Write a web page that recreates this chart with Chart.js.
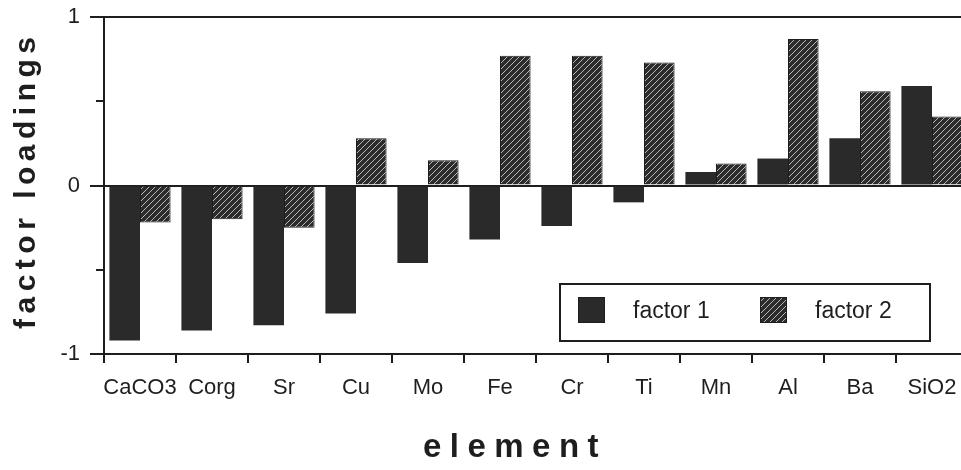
<!DOCTYPE html>
<html>
<head>
<meta charset="utf-8">
<script src="https://cdn.jsdelivr.net/npm/chart.js@4"></script>
<style>
html, body { margin: 0; padding: 0; background: #fff; overflow: hidden; }
#wrap { width: 970px; height: 470px; }
</style>
</head>
<body>
<div id="wrap"><canvas id="chart" width="970" height="470"></canvas></div>
<script>
// values
const elements = ['CaCO3', 'Corg', 'Sr', 'Cu', 'Mo', 'Fe', 'Cr', 'Ti', 'Mn', 'Al', 'Ba', 'SiO2'];
const factor1 = [-0.92, -0.86, -0.83, -0.76, -0.46, -0.32, -0.24, -0.10, 0.08, 0.16, 0.28, 0.59];
const factor2 = [-0.22, -0.20, -0.25, 0.28, 0.15, 0.77, 0.77, 0.73, 0.13, 0.87, 0.56, 0.41];
const yTicks = [-1, 0, 1];
const seriesNames = ['factor 1', 'factor 2'];

const ink = '#1e1e1e';
const fontName = '"Liberation Sans", Arial, sans-serif';

// hatched fill for factor 2
function hatch() {
    const c = document.createElement('canvas');
    c.width = 6; c.height = 6;
    const g = c.getContext('2d');
    g.fillStyle = '#2c2c2c';
    g.fillRect(0, 0, 6, 6);
    g.strokeStyle = 'rgba(230,230,230,0.75)';
    g.lineWidth = 1;
    g.beginPath();
    g.moveTo(0, 6); g.lineTo(6, 0);
    g.moveTo(-1, 1); g.lineTo(1, -1);
    g.moveTo(5, 7); g.lineTo(7, 5);
    g.stroke();
    return g.createPattern(c, 'repeat');
}

// axis titles, minor ticks and the boxed legend
const extras = {
    id: 'extras',
    afterDraw(chart) {
        const ctx = chart.ctx;
        const y = chart.scales.y;
        ctx.save();

        ctx.strokeStyle = ink;
        ctx.lineWidth = 2;
        [-0.5, 0.5].forEach(v => {
            const py = Math.round(y.getPixelForValue(v));
            ctx.beginPath();
            ctx.moveTo(96, py); ctx.lineTo(104, py);
            ctx.stroke();
        });

        ctx.fillStyle = ink;
        ctx.textAlign = 'center';
        ctx.textBaseline = 'alphabetic';
        ctx.font = 'bold 30px ' + fontName;
        ctx.letterSpacing = '5.5px';
        ctx.save();
        ctx.translate(35, 183);
        ctx.rotate(-Math.PI / 2);
        ctx.fillText('factor loadings', 2.75, 0);
        ctx.restore();

        ctx.font = 'bold 33px ' + fontName;
        ctx.letterSpacing = '8.5px';
        ctx.fillText('element', 515, 457);
        ctx.letterSpacing = '0px';

        // legend box
        ctx.fillStyle = '#fff';
        ctx.fillRect(560, 284, 370, 57);
        ctx.strokeRect(560, 284, 370, 57);
        const ds = chart.data.datasets;
        const items = [[578, 633], [760, 815]];
        items.forEach((it, i) => {
            ctx.fillStyle = ds[i].backgroundColor;
            ctx.fillRect(it[0], 297, 27, 26);
            ctx.lineWidth = 1;
            ctx.strokeRect(it[0] + 0.5, 297.5, 26, 25);
            ctx.fillStyle = ink;
            ctx.font = '23px ' + fontName;
            ctx.textAlign = 'left';
            ctx.textBaseline = 'middle';
            ctx.fillText(ds[i].label, it[1], 312);
        });
        ctx.restore();
    }
};

const ctx = document.getElementById('chart').getContext('2d');
new Chart(ctx, {
    type: 'bar',
    data: {
        labels: elements,
        datasets: [
            {
                label: seriesNames[0],
                data: factor1,
                backgroundColor: '#2a2a2a',
                borderWidth: 0
            },
            {
                label: seriesNames[1],
                data: factor2,
                backgroundColor: hatch(),
                borderColor: ink,
                borderWidth: 1
            }
        ]
    },
    options: {
        responsive: false,
        animation: false,
        layout: { padding: { top: 17, right: 2, left: 0, bottom: 0 } },
        datasets: { bar: { categoryPercentage: 0.85, barPercentage: 1 } },
        plugins: { legend: { display: false }, tooltip: { enabled: false } },
        scales: {
            x: {
                grid: { drawOnChartArea: false, drawTicks: true, tickLength: 9, tickColor: ink, lineWidth: 2, offset: true },
                border: { display: true, color: ink, width: 2 },
                ticks: { color: ink, font: { family: fontName, size: 22 }, padding: 12, maxRotation: 0, autoSkip: false },
                afterFit(s) { s.height = 116; s.paddingLeft = 0; s.paddingRight = 0; }
            },
            y: {
                min: -1,
                max: 1,
                ticks: {
                    stepSize: 0.5,
                    color: ink,
                    font: { family: fontName, size: 22 },
                    padding: 10,
                    callback: v => yTicks.includes(v) ? String(v) : ''
                },
                grid: {
                    lineWidth: 2,
                    tickLength: 14,
                    color: c => (c.tick && (c.tick.value === 0 || c.tick.value === 1)) ? ink : 'rgba(0,0,0,0)',
                    tickColor: c => (c.tick && yTicks.includes(c.tick.value)) ? ink : 'rgba(0,0,0,0)'
                },
                border: { color: ink, width: 2 },
                afterFit(s) { s.width = 104; s.paddingTop = 0; s.paddingBottom = 0; }
            }
        }
    },
    plugins: [extras]
});
</script>
</body>
</html>
